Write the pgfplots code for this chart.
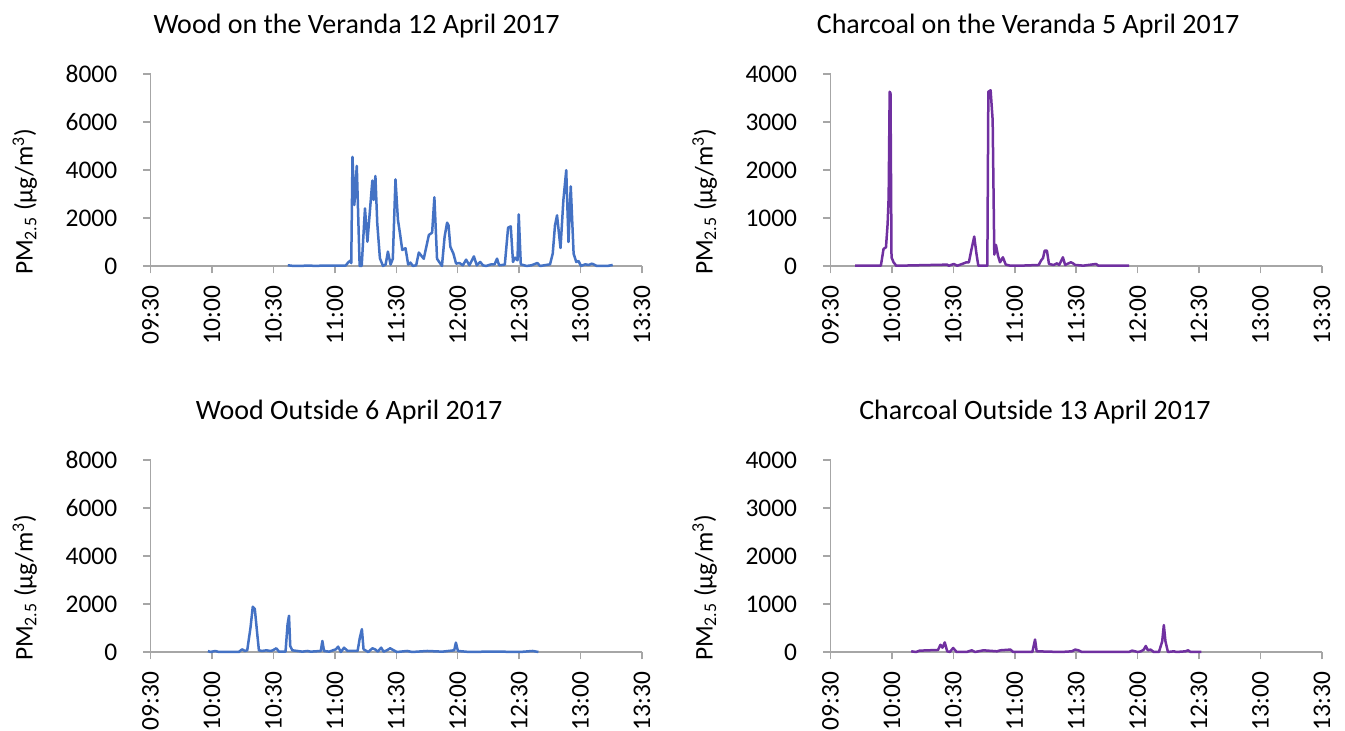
\documentclass[border=0pt]{standalone}
\usepackage{fontspec}
\setmainfont{Carlito}
\usepackage{pgfplots}
\pgfplotsset{compat=1.18}
\definecolor{axgray}{RGB}{166,166,166}
\definecolor{wood}{RGB}{68,114,196}
\definecolor{charc}{RGB}{112,48,160}
\pgfplotsset{
 panel/.style={
  scale only axis, width=245.7pt, height=96pt, anchor=south west,
  axis lines=left, axis line style={-, draw=axgray, line width=0.75pt},
  xmin=0, xmax=240, ymin=0,
  xtick={0,30,...,240},
  xticklabels={09:30,10:00,10:30,11:00,11:30,12:00,12:30,13:00,13:30},
  tick align=outside, major tick length=3.75pt,
  tick style={draw=axgray, line width=0.75pt},
  xticklabel style={rotate=90, anchor=east, inner sep=0pt},
  yticklabel style={anchor=east, inner sep=0pt},
  xticklabel shift=6pt, yticklabel shift=12.75pt,
  ticklabel style={font=\fontsize{12.7}{15}\selectfont},
  /pgf/number format/assume math mode=true,
  /pgf/number format/1000 sep={},
  ylabel={PM\textsubscript{2.5} (µg/m\textsuperscript{3})},
  ylabel style={at={(axis description cs:-0.256,0.335)}, anchor=center, font=\fontsize{12.7}{15}\selectfont},
  title style={font=\fontsize{14}{17}\selectfont},
  clip=false,
 },
 ser/.style={line width=1.25pt, line join=round, #1, mark=none},
}
\begin{document}
\begin{tikzpicture}
\useasboundingbox (0,0) rectangle (672.5pt,365.5pt);
% Top-left
\begin{axis}[panel, at={(75.3pt,232.5pt)}, ymax=8000, ytick={0,2000,...,8000},
  title={Wood on the Veranda 12 April 2017}, title style={at={(axis description cs:0.419,1.147)}, anchor=base, yshift=0pt}]
\addplot[ser=wood] coordinates {
(67.0,30) (70,0) (75,10) (78,20) (80,0) (85,20) (95.3,20) (96.5,150) (97.5,220) (98.0,120)
(98.6,4550) (99.5,2540) (100.7,4170) (102.1,0) (103.1,0) (104.7,2400) (105.9,1010) (108.3,3560)
(108.9,2750) (109.8,3750) (110.7,1780) (112.0,320) (113.5,0) (114.8,60) (115.9,600) (117.2,60)
(118.3,300) (119.6,3610) (120.8,1920) (121.8,1360) (122.9,670) (124.5,740) (125.8,60) (126.9,140)
(128.1,0) (129.7,30) (131.0,560) (133.4,300) (135.9,1290) (137.5,1390) (138.6,2860) (139.9,300)
(142.3,0) (143.6,1220) (144.8,1805) (145.5,1700) (146.4,800) (147.9,514) (149.2,97) (150.8,125)
(152.5,28) (154.1,264) (155.7,28) (157.9,400) (159.3,28) (161.0,167) (162.3,28) (163.9,0)
(166.4,70) (168.0,70) (169.2,305) (170.2,28) (173.0,55) (174.6,1600) (175.9,1650) (177.0,167)
(178.0,347) (179.2,236) (179.8,2150) (180.8,70) (183.6,0) (186.0,28) (188.9,125) (190.2,0)
(195.1,70) (196.4,514) (197.5,1690) (198.5,2110) (200.2,750) (201.6,2740) (203.0,3990) (204.1,1000)
(205.2,3320) (206.6,514) (207.9,167) (209.0,208) (210.2,0) (212.3,70) (213.9,42) (215.6,97)
(218.0,0) (223.0,0) (225.7,42)
};
\end{axis}
% Top-right
\begin{axis}[panel, at={(415.25pt,232.5pt)}, ymax=4000, ytick={0,1000,...,4000},
  title={Charcoal on the Veranda 5 April 2017}, title style={at={(axis description cs:0.402,1.147)}, anchor=base, yshift=0pt}]
\addplot[ser=charc] coordinates {
(12.0,5) (24.6,5) (25.9,355) (27.1,390) (27.9,880) (28.4,1435) (28.9,3630) (29.3,3600) (29.8,180)
(30.8,77) (32.1,5) (57.0,28) (57.8,5) (60.2,42) (61.9,5) (64.3,42) (66.4,77) (67.6,77) (68.9,355)
(70.2,613) (71.3,250) (72.2,5) (76.6,5) (77.1,3630) (78.2,3660) (79.2,3040) (80.0,237) (80.8,440)
(81.8,216) (82.8,77) (84.2,181) (85.6,28) (88.0,5) (92.8,7) (101.7,21) (102.8,111) (103.8,167)
(104.6,320) (105.7,320) (106.7,42) (109.0,21) (110.6,56) (111.7,21) (113.5,181) (114.6,21)
(116.3,56) (117.4,77) (118.4,56) (119.5,21) (123.5,7) (129.7,42) (130.8,7) (136.5,7) (145.9,7)
};
\end{axis}
% Bottom-left
\begin{axis}[panel, at={(75.3pt,39.5pt)}, ymax=8000, ytick={0,2000,...,8000},
  title={Wood Outside 6 April 2017}, title style={at={(axis description cs:0.404,1.147)}, anchor=base, yshift=0pt}]
\addplot[ser=wood] coordinates {
(28.0,42) (29.2,0) (31.6,42) (33.3,0) (43.1,0) (44.7,112) (46.0,42) (47.2,70) (48.8,1020)
(49.9,1885) (50.9,1790) (52.1,740) (52.9,70) (54.5,42) (56.5,70) (58.6,42) (59.7,70) (61.4,154)
(62.7,14) (65.9,14) (66.9,1160) (67.6,1510) (68.2,250) (69.2,70) (71.7,42) (74.1,14) (76.6,42)
(78.2,14) (83.1,42) (83.9,460) (84.7,42) (87.2,14) (90.5,112) (91.6,223) (92.9,0) (94.5,180)
(96.2,42) (101.1,42) (102.2,600) (103.2,950) (104.0,112) (106.3,0) (108.3,154) (109.6,112)
(111.0,14) (112.6,180) (113.8,14) (115.4,70) (117.0,154) (118.7,70) (120.3,0) (125.3,42)
(127.7,0) (135.1,42) (142.5,14) (148.3,70) (149.1,390) (150.1,42) (155.7,0) (163.9,14)
(170.5,14) (180.4,0) (186.6,42) (189.4,0)
};
\end{axis}
% Bottom-right
\begin{axis}[panel, at={(415.25pt,39.5pt)}, ymax=4000, ytick={0,1000,...,4000},
  title={Charcoal Outside 13 April 2017}, title style={at={(axis description cs:0.416,1.147)}, anchor=base, yshift=0pt}]
\addplot[ser=charc] coordinates {
(39.4,14) (41.8,0) (43.5,28) (52.5,42) (53.7,150) (54.7,90) (55.8,200) (57.0,14) (58.3,0)
(59.9,84) (61.6,0) (66.5,0) (69.0,35) (70.6,0) (74.7,35) (81.3,14) (83.0,35) (87.9,50) (89.2,0)
(98.6,0) (99.9,260) (100.7,14) (112.6,0) (117.9,14) (119.5,50) (121.1,35) (122.8,0) (145.7,0)
(147.3,28) (150.1,0) (151.7,14) (153.0,50) (154.0,125) (155.0,35) (156.3,50) (157.9,0) (160.4,0)
(162.0,220) (162.8,560) (163.6,220) (164.8,0) (167.7,14) (169.0,0) (173.4,14) (174.6,35)
(175.9,0) (181.1,0)
};
\end{axis}
\end{tikzpicture}
\end{document}
